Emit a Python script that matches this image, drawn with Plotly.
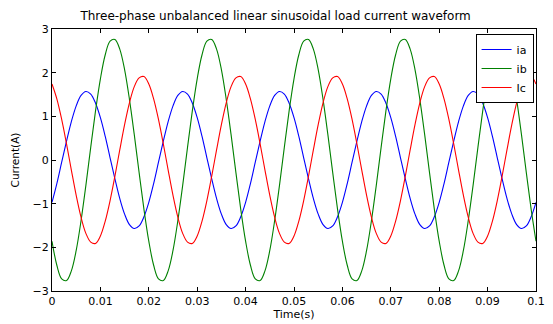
import plotly.graph_objects as go

# time axis (s), 1 ms sampling
t = [round(i * 0.001, 3) for i in range(101)]

ia = [-0.97, -0.54, -0.05, 0.43, 0.88, 1.24, 1.48, 1.57, 1.51, 1.30, 0.97, 0.54, 0.05, -0.43, -0.88, -1.24, -1.48, -1.57, -1.51, -1.30,
      -0.97, -0.54, -0.05, 0.43, 0.88, 1.24, 1.48, 1.57, 1.51, 1.30, 0.97, 0.54, 0.05, -0.43, -0.88, -1.24, -1.48, -1.57, -1.51, -1.30,
      -0.97, -0.54, -0.05, 0.43, 0.88, 1.24, 1.48, 1.57, 1.51, 1.30, 0.97, 0.54, 0.05, -0.43, -0.88, -1.24, -1.48, -1.57, -1.51, -1.30,
      -0.97, -0.54, -0.05, 0.43, 0.88, 1.24, 1.48, 1.57, 1.51, 1.30, 0.97, 0.54, 0.05, -0.43, -0.88, -1.24, -1.48, -1.57, -1.51, -1.30,
      -0.97, -0.54, -0.05, 0.43, 0.88, 1.24, 1.48, 1.57, 1.51, 1.30, 0.97, 0.54, 0.05, -0.43, -0.88, -1.24, -1.48, -1.57, -1.51, -1.30,
      -0.97]

ib = [-1.86, -2.41, -2.72, -2.76, -2.54, -2.07, -1.39, -0.58, 0.29, 1.13, 1.86, 2.41, 2.72, 2.76, 2.54, 2.07, 1.39, 0.58, -0.29, -1.13,
      -1.86, -2.41, -2.72, -2.76, -2.54, -2.07, -1.39, -0.58, 0.29, 1.13, 1.86, 2.41, 2.72, 2.76, 2.54, 2.07, 1.39, 0.58, -0.29, -1.13,
      -1.86, -2.41, -2.72, -2.76, -2.54, -2.07, -1.39, -0.58, 0.29, 1.13, 1.86, 2.41, 2.72, 2.76, 2.54, 2.07, 1.39, 0.58, -0.29, -1.13,
      -1.86, -2.41, -2.72, -2.76, -2.54, -2.07, -1.39, -0.58, 0.29, 1.13, 1.86, 2.41, 2.72, 2.76, 2.54, 2.07, 1.39, 0.58, -0.29, -1.13,
      -1.86, -2.41, -2.72, -2.76, -2.54, -2.07, -1.39, -0.58, 0.29, 1.13, 1.86, 2.41, 2.72, 2.76, 2.54, 2.07, 1.39, 0.58, -0.29, -1.13,
      -1.86]

ic = [1.74, 1.40, 0.93, 0.37, -0.23, -0.81, -1.31, -1.68, -1.88, -1.91, -1.74, -1.40, -0.93, -0.37, 0.23, 0.81, 1.31, 1.68, 1.88, 1.91,
      1.74, 1.40, 0.93, 0.37, -0.23, -0.81, -1.31, -1.68, -1.88, -1.91, -1.74, -1.40, -0.93, -0.37, 0.23, 0.81, 1.31, 1.68, 1.88, 1.91,
      1.74, 1.40, 0.93, 0.37, -0.23, -0.81, -1.31, -1.68, -1.88, -1.91, -1.74, -1.40, -0.93, -0.37, 0.23, 0.81, 1.31, 1.68, 1.88, 1.91,
      1.74, 1.40, 0.93, 0.37, -0.23, -0.81, -1.31, -1.68, -1.88, -1.91, -1.74, -1.40, -0.93, -0.37, 0.23, 0.81, 1.31, 1.68, 1.88, 1.91,
      1.74, 1.40, 0.93, 0.37, -0.23, -0.81, -1.31, -1.68, -1.88, -1.91, -1.74, -1.40, -0.93, -0.37, 0.23, 0.81, 1.31, 1.68, 1.88, 1.91,
      1.74]

names = ["ia", "ib", "Ic"]
colors = ["#0000FF", "#008000", "#FF0000"]
xticks = [0, 0.01, 0.02, 0.03, 0.04, 0.05, 0.06, 0.07, 0.08, 0.09, 0.1]
xticklabels = ["0", "0.01", "0.02", "0.03", "0.04", "0.05", "0.06", "0.07", "0.08", "0.09", "0.1"]
yticks = [-3, -2, -1, 0, 1, 2, 3]

font = "DejaVu Sans, Arial, sans-serif"

fig = go.Figure()
for y, n, c in zip([ia, ib, ic], names, colors):
    fig.add_trace(go.Scatter(x=t, y=y, mode="lines", name=n,
                             line=dict(color=c, width=1.1, shape="spline", smoothing=1.0)))

axis_common = dict(showline=True, linecolor="black", linewidth=1, mirror="allticks",
                   ticks="inside", ticklen=4, tickcolor="black", showgrid=False,
                   zeroline=False, tickfont=dict(size=11, color="black", family=font))

fig.update_layout(
    width=553, height=324,
    margin=dict(l=52, r=8, t=29, b=30),
    paper_bgcolor="white", plot_bgcolor="white",
    font=dict(family=font, color="black"),
    title=dict(text="Three-phase unbalanced linear sinusoidal load current waveform",
               x=0.462, xref="paper", xanchor="center",
               y=0.952, yref="container", yanchor="middle",
               font=dict(size=12, color="black", family=font)),
    xaxis=dict(range=[0, 0.1], tickvals=xticks, ticktext=xticklabels,
               title=dict(text="Time(s)", standoff=0, font=dict(size=11, family=font)),
               **axis_common),
    yaxis=dict(range=[-3, 3], tickvals=yticks,
               title=dict(text="Current(A)", standoff=10, font=dict(size=10.5, family=font)),
               **axis_common),
    legend=dict(x=0.995, y=0.981, xanchor="right", yanchor="top",
                bgcolor="white", bordercolor="black", borderwidth=1,
                font=dict(size=11, color="black", family=font),
                tracegroupgap=0, itemwidth=30),
    showlegend=True,
)

fig.write_html("out.html")
